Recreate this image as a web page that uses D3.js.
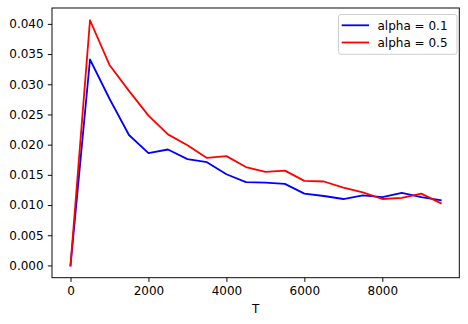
<!DOCTYPE html>
<html><head><meta charset="utf-8">
<script src="https://cdn.jsdelivr.net/npm/d3@7"></script>
<style>body{margin:0;background:#fff}svg{display:block}text{font-family:"DejaVu Sans",sans-serif}</style>
</head><body><svg id="c" width="468" height="324"></svg>
<script>
const T = [0,500,1000,1500,2000,2500,3000,3500,4000,4500,5000,5500,6000,6500,7000,7500,8000,8500,9000,9500];
const alpha01 = [0,0.0341,0.0276,0.0216,0.0186,0.0192,0.0176,0.0171,0.0151,0.0138,0.0137,0.0135,0.0119,0.0115,0.0110,0.0116,0.0113,0.0120,0.0113,0.0108];
const alpha05 = [0,0.0406,0.0332,0.0289,0.0248,0.0217,0.0199,0.0178,0.0181,0.0163,0.0155,0.0157,0.0140,0.0139,0.0129,0.0121,0.0110,0.0112,0.0119,0.0103];
const xTicks = [0,2000,4000,6000,8000];
const yTicks = [0,0.005,0.010,0.015,0.020,0.025,0.030,0.035,0.040];
const seriesNames = ["alpha = 0.1","alpha = 0.5"];
const seriesColors = ["#0000ff","#ff0000"];

const svg = d3.select("#c");
const L=52, R=459.3, Tp=8, B=277.7;
const xMin=-475, xMax=9975;
const yMax=0.0406, yMin=0;
const yPad=(yMax-yMin)*0.05;
const x=d3.scaleLinear().domain([xMin,xMax]).range([L,R]);
const y=d3.scaleLinear().domain([yMin-yPad,yMax+yPad]).range([B,Tp]);
const FS=12;

const line=d3.line().x(d=>x(d[0])).y(d=>y(d[1]));
[alpha01,alpha05].forEach((s,i)=>{
  svg.append("path").datum(T.map((t,j)=>[t,s[j]]))
    .attr("d",line).attr("fill","none").attr("stroke",seriesColors[i])
    .attr("stroke-width",1.8).attr("stroke-linejoin","round").attr("stroke-linecap","square");
});

const xa=svg.append("g").attr("transform",`translate(0,${B})`)
  .call(d3.axisBottom(x).tickValues(xTicks).tickFormat(d3.format("d")).tickSize(4.2).tickPadding(4.2));
const ya=svg.append("g").attr("transform",`translate(${L},0)`)
  .call(d3.axisLeft(y).tickValues(yTicks).tickFormat(d3.format(".3f")).tickSize(4.2).tickPadding(4.2));
[xa,ya].forEach(a=>{
  a.select(".domain").remove();
  a.selectAll("line").attr("stroke","#000").attr("stroke-width",0.96);
  a.selectAll("text").attr("font-size",FS).attr("fill","#000").attr("font-family","DejaVu Sans");
});
svg.append("rect").attr("x",L).attr("y",Tp).attr("width",R-L).attr("height",B-Tp)
  .attr("fill","none").attr("stroke","#000").attr("stroke-width",0.96);

svg.append("text").attr("x",(L+R)/2).attr("y",312.5).attr("text-anchor","middle")
  .attr("font-size",FS).text("T");

const lg=svg.append("g");
lg.append("rect").attr("x",338.5).attr("y",14.5).attr("width",118.5).attr("height",39.8)
  .attr("rx",2.5).attr("fill","#fff").attr("fill-opacity",0.8).attr("stroke","#cccccc").attr("stroke-width",0.96);
seriesNames.forEach((n,i)=>{
  const yy=25.3+i*17.2;
  lg.append("line").attr("x1",341.7).attr("x2",369).attr("y1",yy).attr("y2",yy)
    .attr("stroke",seriesColors[i]).attr("stroke-width",1.8);
  lg.append("text").attr("x",377.5).attr("y",yy).attr("dy","0.35em").attr("font-size",FS).text(n);
});
</script></body></html>
